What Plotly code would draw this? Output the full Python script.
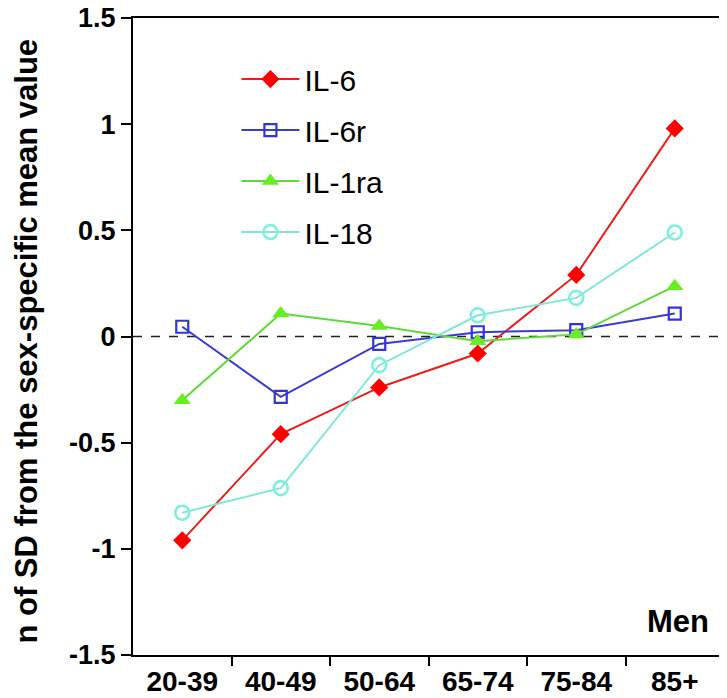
import plotly.graph_objects as go

categories = ["20-39", "40-49", "50-64", "65-74", "75-84", "85+"]
il6 = [-0.96, -0.46, -0.24, -0.08, 0.29, 0.98]
il6r = [0.046, -0.284, -0.035, 0.02, 0.03, 0.108]
il1ra = [-0.30, 0.108, 0.049, -0.022, 0.01, 0.237]
il18 = [-0.83, -0.714, -0.135, 0.10, 0.182, 0.49]

y_tickvals = [-1.5, -1, -0.5, 0, 0.5, 1, 1.5]
y_ticktext = ["-1.5", "-1", "-0.5", "0", "0.5", "1", "1.5"]

series = [
    ("IL-6", il6, "#E8201A", dict(symbol="diamond", size=14, color="#FF0000")),
    ("IL-6r", il6r, "#3B3BD0", dict(symbol="square-open", size=12, color="#3333DD", line=dict(width=2.2))),
    ("IL-1ra", il1ra, "#5ED93A", dict(symbol="triangle-up", size=15, color="#66EE22")),
    ("IL-18", il18, "#7FE8D8", dict(symbol="circle-open", size=14, color="#7FEFE0", line=dict(width=2.6))),
]

fig = go.Figure()
for i, (name, vals, lc, mk) in enumerate(series):
    fig.add_trace(go.Scatter(
        x=categories, y=vals, name=name, mode="lines+markers",
        line=dict(color=lc, width=2), marker=mk, legendgroup=str(i),
    ))

# boundary ticks on an overlay axis
fig.add_trace(go.Scatter(x=[None], y=[None], xaxis="x2", showlegend=False, hoverinfo="skip"))

fig.add_hline(y=0, line=dict(color="#222222", width=1.5, dash="dash"), layer="below")

font_family = "Liberation Sans, Arial, sans-serif"
n = len(categories)
fig.update_layout(
    width=719, height=690,
    margin=dict(l=125, r=3, t=10, b=43, autoexpand=False),
    paper_bgcolor="white", plot_bgcolor="white",
    font=dict(family=font_family, color="black"),
    showlegend=True,
    legend=dict(x=0.175, y=0.945, xanchor="left", yanchor="top",
                font=dict(size=30, family=font_family, color="black"),
                bgcolor="rgba(0,0,0,0)", tracegroupgap=9, itemwidth=58),
    xaxis=dict(type="category", range=[-0.5, n - 0.5], showline=True, linecolor="black",
               linewidth=2, mirror=True, ticks="", showgrid=False, zeroline=False,
               automargin=False,
               tickfont=dict(size=28, family=font_family, color="black", weight="bold")),
    xaxis2=dict(overlaying="x", range=[-0.5, n - 0.5], side="bottom",
                tickvals=[i + 0.5 for i in range(n - 1)], ticks="outside", ticklen=10,
                tickwidth=2, tickcolor="black", showticklabels=False, showgrid=False,
                zeroline=False, showline=False, automargin=False),
    yaxis=dict(range=[-1.5, 1.5], tickvals=y_tickvals, ticktext=y_ticktext,
               showline=True, linecolor="black", linewidth=2, mirror=True,
               ticks="outside", ticklen=10, tickwidth=2, tickcolor="black",
               showgrid=False, zeroline=False, ticklabeloverflow="allow", automargin=False,
               tickfont=dict(size=27, family=font_family, color="black", weight="bold")),
    annotations=[
        dict(text="n of SD from the sex-specific mean value", xref="paper", yref="paper",
             x=-0.18, y=0.493, textangle=-90, showarrow=False, xanchor="center", yanchor="middle",
             font=dict(size=31, family=font_family, color="black", weight="bold")),
        dict(text="Men", xref="x", yref="y", x=categories[-1], y=-1.34, showarrow=False,
             xshift=3,
             font=dict(size=31, family=font_family, color="black", weight="bold")),
    ],
)
fig.write_html("out.html")
